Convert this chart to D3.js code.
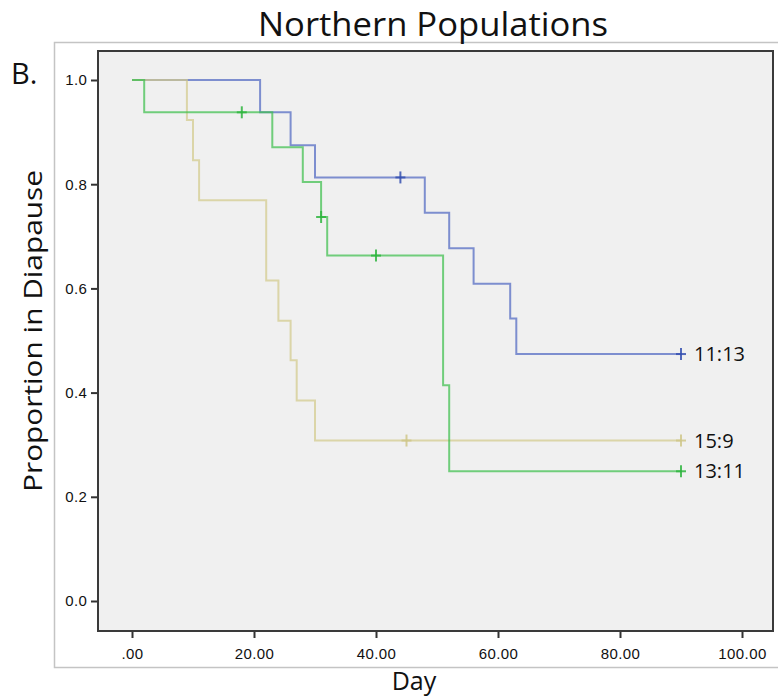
<!DOCTYPE html>
<html>
<head>
<meta charset="utf-8">
<script src="https://cdn.jsdelivr.net/npm/d3@7"></script>
<style>
  body { margin: 0; background: #fff; }
  svg text { fill: #111; }
</style>
</head>
<body>
<svg id="chart" width="778" height="698"></svg>
<script>
//Data
const endDay = 90;
//11:13 (blue)
const blueDays = [0, 21, 26, 30, 48, 52, 56, 62, 63];
const blueSurv = [1, 0.938, 0.875, 0.813, 0.745, 0.677, 0.609, 0.542, 0.474];
const blueCensor = [44, 90];
//13:11 (green)
const greenDays = [0, 2, 23, 28, 31, 32, 51, 52];
const greenSurv = [1, 0.938, 0.871, 0.804, 0.737, 0.663, 0.414, 0.249];
const greenCensor = [18, 31, 40, 90];
//15:9 (yellow)
const yellowDays = [0, 9, 10, 11, 22, 24, 26, 27, 30];
const yellowSurv = [1, 0.923, 0.846, 0.769, 0.615, 0.538, 0.462, 0.385, 0.308];
const yellowCensor = [45, 90];

const xTicks = [0, 20, 40, 60, 80, 100];
const yTicks = [0, 0.2, 0.4, 0.6, 0.8, 1.0];

const svg = d3.select("#chart");

//Outer frame and plot frame
svg.append("rect")
  .attr("x", 54.5).attr("y", 42.5)
  .attr("width", 730).attr("height", 625)
  .attr("fill", "none").attr("stroke", "#c4c4c4").attr("stroke-width", 1.5);

const plot = { left: 98, top: 51, right: 773, bottom: 631 };
svg.append("rect")
  .attr("x", plot.left).attr("y", plot.top)
  .attr("width", plot.right - plot.left).attr("height", plot.bottom - plot.top)
  .attr("fill", "#f0f0f0");

//Scales
const xScale = d3.scaleLinear().domain([0, 100]).range([132, 742]);
const yScale = d3.scaleLinear().domain([0, 1]).range([601, 80]);

//Axes
const xAxis = d3.axisBottom(xScale)
  .tickValues(xTicks)
  .tickSize(7)
  .tickFormat((d) => (d === 0 ? ".00" : d3.format(".2f")(d)));
const gx = svg.append("g")
  .attr("transform", `translate(0, ${plot.bottom})`)
  .call(xAxis);

const yAxis = d3.axisLeft(yScale)
  .tickValues(yTicks)
  .tickSize(7)
  .tickFormat(d3.format(".1f"));
const gy = svg.append("g")
  .attr("transform", `translate(${plot.left}, 0)`)
  .call(yAxis);

[gx, gy].forEach((g) => {
  g.select(".domain").remove();
  g.selectAll(".tick line").attr("stroke", "#333").attr("stroke-width", 2);
  g.selectAll(".tick text")
    .attr("font-family", "Liberation Sans, Arial, sans-serif")
    .attr("font-size", 15)
    .attr("letter-spacing", "0.4px")
    .attr("fill", "#2a2a2a");
});
gx.selectAll(".tick text").attr("dy", "1.2em");
gy.selectAll(".tick text").attr("dx", "-0.05em");

//Plot border
svg.append("rect")
  .attr("x", plot.left).attr("y", plot.top)
  .attr("width", plot.right - plot.left).attr("height", plot.bottom - plot.top)
  .attr("fill", "none").attr("stroke", "#3a3a3a").attr("stroke-width", 2);

//Survival curves
const series = [
  { name: "11:13", days: blueDays, surv: blueSurv, censor: blueCensor, color: "#5068c2", mark: "#3550b0" },
  { name: "15:9", days: yellowDays, surv: yellowSurv, censor: yellowCensor, color: "#d2cb8c", mark: "#cfc78a" },
  { name: "13:11", days: greenDays, surv: greenSurv, censor: greenCensor, color: "#3fbf4e", mark: "#2fb540" },
];

const stepLine = d3.line()
  .x((d) => xScale(d[0]))
  .y((d) => yScale(d[1]))
  .curve(d3.curveStepAfter);

//Survival at a given day (last step at or before it)
const survAt = (s, t) => {
  let v = s.surv[0];
  s.days.forEach((d, i) => { if (d <= t) v = s.surv[i]; });
  return v;
};

series.forEach((s) => {
  const pts = s.days.map((d, i) => [d, s.surv[i]]);
  pts.push([endDay, s.surv[s.surv.length - 1]]);
  svg.append("path")
    .attr("d", stepLine(pts))
    .attr("fill", "none")
    .attr("stroke", s.color)
    .attr("stroke-width", 2)
    .attr("stroke-opacity", 0.72);
});

series.forEach((s) => {
  s.censor.forEach((t) => {
    const cx = xScale(t);
    const cy = yScale(survAt(s, t));
    const g = svg.append("g").attr("stroke", s.mark).attr("stroke-width", 2).attr("stroke-opacity", 0.85);
    g.append("line").attr("x1", cx).attr("x2", cx).attr("y1", cy - 6).attr("y2", cy + 6);
    g.append("line").attr("x1", cx - 5).attr("x2", cx + 5).attr("y1", cy).attr("y2", cy);
  });
  //series label at curve end
  svg.append("text")
    .attr("x", xScale(endDay) + 13)
    .attr("y", yScale(s.surv[s.surv.length - 1]))
    .attr("dy", "0.36em")
    .attr("font-family", "Open Sans, sans-serif")
    .attr("font-size", 20)
    .text(s.name);
});

//Titles
svg.append("text")
  .attr("x", 433).attr("y", 36)
  .attr("text-anchor", "middle")
  .attr("font-family", "Open Sans, sans-serif")
  .attr("font-size", 33)
  .attr("textLength", 350)
  .attr("lengthAdjust", "spacingAndGlyphs")
  .text("Northern Populations");

svg.append("text")
  .attr("x", 11).attr("y", 84)
  .attr("font-family", "Open Sans, sans-serif")
  .attr("font-size", 29)
  .text("B.");

svg.append("text")
  .attr("x", 414).attr("y", 690)
  .attr("text-anchor", "middle")
  .attr("font-family", "Open Sans, sans-serif")
  .attr("font-size", 25)
  .text("Day");

svg.append("text")
  .attr("transform", "translate(42, 331) rotate(-90)")
  .attr("text-anchor", "middle")
  .attr("font-family", "Open Sans, sans-serif")
  .attr("font-size", 26)
  .attr("textLength", 322)
  .attr("lengthAdjust", "spacingAndGlyphs")
  .text("Proportion in Diapause");
</script>
</body>
</html>
